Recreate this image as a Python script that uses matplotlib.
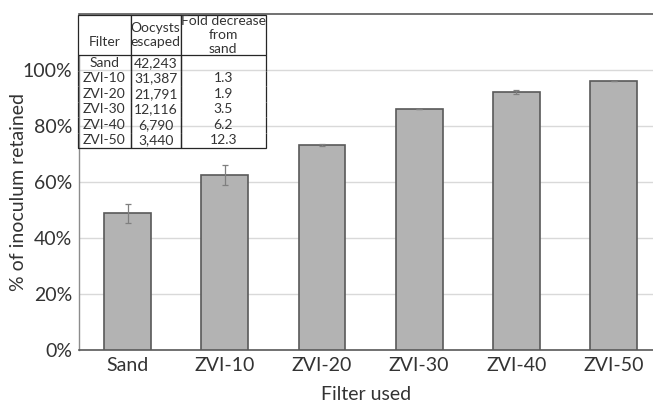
import matplotlib.pyplot as plt
import numpy as np

plt.rcParams['font.family'] = ['Lato', 'DejaVu Sans']

filters = ['Sand', 'ZVI-10', 'ZVI-20', 'ZVI-30', 'ZVI-40', 'ZVI-50']
retained = [48.8, 62.5, 73.2, 86.2, 92.1, 96.1]
err = [3.3, 3.6, 0.3, 0.05, 0.7, 0.1]

oocysts = ['42,243', '31,387', '21,791', '12,116', '6,790', '3,440']
fold = ['', '1.3', '1.9', '3.5', '6.2', '12.3']
header = ['\nFilter', 'Oocysts\nescaped', 'Fold decrease\nfrom\nsand']

fig = plt.figure(figsize=(6.53, 4.03), dpi=100)
ax = fig.add_axes([79 / 653, 53 / 403, 574 / 653, 336 / 403])

x = np.arange(len(filters))
ax.bar(x, retained, width=0.48, color='#b3b3b3', edgecolor='#595959', linewidth=1.2, zorder=3)
ax.errorbar(x, retained, yerr=err, fmt='none', ecolor='#7f7f7f', elinewidth=0.9,
            capsize=2, capthick=0.9, zorder=4)

ax.set_xlim(-0.5, 5.405)
ax.set_ylim(0, 120)
ax.set_yticks([0, 20, 40, 60, 80, 100])
ax.set_yticklabels([f'{v}%' for v in [0, 20, 40, 60, 80, 100]])
ax.set_xticks(x)
ax.set_xticklabels(filters)
ax.tick_params(length=0, labelsize=14, colors='#333333', pad=5)
ax.grid(axis='y', color='#d9d9d9', linewidth=1.0, zorder=0)
ax.set_axisbelow(True)

for s in ['top', 'bottom']:
    ax.spines[s].set_color('#595959')
    ax.spines[s].set_linewidth(1.2)
ax.spines['left'].set_color('#8c8c8c')
ax.spines['left'].set_linewidth(1.0)
ax.spines['right'].set_visible(False)

ax.set_ylabel('% of inoculum retained', fontsize=14, color='#333333')
ax.yaxis.set_label_coords(-0.09, 0.47)
ax.set_xlabel('Filter used', fontsize=14, color='#333333', labelpad=9)

# inset table
cell_text = [[f, o, d] for f, o, d in zip(filters, oocysts, fold)]
tab = ax.table(cellText=cell_text, colLabels=header, cellLoc='center',
               colWidths=[53, 50, 85], bbox=[-0.002, 0.601, 0.327, 0.396], zorder=5)
tab.auto_set_font_size(False)
tab.set_fontsize(10)
nrows = len(filters)
for (r, c), cell in tab.get_celld().items():
    cell.set_edgecolor('#262626')
    cell.set_linewidth(0.9)
    cell.set_facecolor('white')
    cell.get_text().set_color('#333333')
    cell.PAD = 0.02
    if r == 0:
        cell.set_height(40)
        cell.visible_edges = 'closed'
        cell.get_text().set_linespacing(1.2)
    else:
        cell.set_height(15.5)
        cell.visible_edges = 'BLR' if r == nrows else 'LR'

fig.savefig('out.png', dpi=100)
